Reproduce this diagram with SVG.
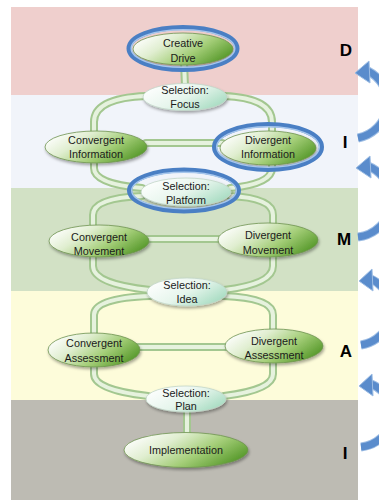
<svg xmlns="http://www.w3.org/2000/svg" width="379" height="500" viewBox="0 0 379 500">
  <defs>
    <linearGradient id="gNode" x1="0" y1="0.25" x2="1" y2="0.75">
      <stop offset="0" stop-color="#ffffff"/>
      <stop offset="0.3" stop-color="#e0eed0"/>
      <stop offset="0.62" stop-color="#a4ce78"/>
      <stop offset="1" stop-color="#4e9322"/>
    </linearGradient>
    <linearGradient id="gSel" x1="0" y1="0.2" x2="1" y2="0.8">
      <stop offset="0" stop-color="#ffffff"/>
      <stop offset="0.5" stop-color="#e6f5ec"/>
      <stop offset="1" stop-color="#a0d9bd"/>
    </linearGradient>
    <filter id="shadow" x="-20%" y="-30%" width="140%" height="170%">
      <feDropShadow dx="1" dy="2" stdDeviation="1.4" flood-color="#000" flood-opacity="0.35"/>
    </filter>
    <style>
      .node { fill: url(#gNode); stroke: #6f9350; stroke-width: 0.8; filter: url(#shadow); }
      .sel { fill: url(#gSel); stroke: #c2d6c8; stroke-width: 0.8; filter: url(#shadow); }
      .ring { fill: none; stroke: #4a7fc4; stroke-width: 5; }
      .ringHi { fill: none; stroke: #a6c6ec; stroke-width: 1.4; }
      .label { font-family: "Liberation Sans", Arial, sans-serif; font-size: 10.8px; fill: #1a1a1a; text-anchor: middle; }
      .phase { font-family: "Liberation Sans", Arial, sans-serif; font-size: 17px; font-weight: bold; fill: #000; text-anchor: middle; }
      .tubeOut { fill: none; stroke: #a3c790; stroke-width: 8; stroke-linecap: round; }
      .tubeIn { fill: none; stroke: #e6f2de; stroke-width: 4; stroke-linecap: round; }
      .arcOut { fill: none; stroke: #9dbde4; stroke-width: 9; }
      .arcIn { fill: none; stroke: #5a8ccc; stroke-width: 7; }
      .headShape { fill: #5a8ccc; stroke: #9dbde4; stroke-width: 1; }
    </style>
  </defs>

  <!-- phase bands -->
  <g id="bands">
    <rect x="11" y="7" width="347" height="88" fill="#efcfcd"/>
    <rect x="11" y="95" width="347" height="93" fill="#f1f4fa"/>
    <rect x="11" y="188" width="347" height="103" fill="#d2e1c5"/>
    <rect x="11" y="291" width="347" height="109" fill="#fdfcda"/>
    <rect x="11" y="400" width="347" height="100" fill="#bdbbb3"/>
  </g>

  <!-- tube connectors -->
  <g id="connectors">
    <g class="tubeOut">
      <path d="M184 62 L185 86"/>
      <path d="M146 96 Q94 98 94 122 L94 136"/>
      <path d="M224 96 Q272 98 272 122 L272 134"/>
      <path d="M146 143 L222 143"/>
      <path d="M94 160 L94 168 Q94 184 142 188"/>
      <path d="M272 162 L272 168 Q272 184 230 188"/>
      <path d="M142 196 Q93 198 93 215 L93 228"/>
      <path d="M230 196 Q273 198 273 215 L273 226"/>
      <path d="M148 239 L220 239"/>
      <path d="M93 255 L93 266 Q93 284 150 290"/>
      <path d="M273 254 L273 266 Q273 284 224 290"/>
      <path d="M150 296 Q94 298 94 315 L94 336"/>
      <path d="M224 296 Q273 298 273 315 L273 332"/>
      <path d="M138 347 L226 347"/>
      <path d="M94 364 L94 374 Q94 390 148 396"/>
      <path d="M273 360 L273 374 Q273 390 224 396"/>
      <path d="M187 410 L187 434"/>
    </g>
    <g class="tubeIn">
      <path d="M184 62 L185 86"/>
      <path d="M146 96 Q94 98 94 122 L94 136"/>
      <path d="M224 96 Q272 98 272 122 L272 134"/>
      <path d="M146 143 L222 143"/>
      <path d="M94 160 L94 168 Q94 184 142 188"/>
      <path d="M272 162 L272 168 Q272 184 230 188"/>
      <path d="M142 196 Q93 198 93 215 L93 228"/>
      <path d="M230 196 Q273 198 273 215 L273 226"/>
      <path d="M148 239 L220 239"/>
      <path d="M93 255 L93 266 Q93 284 150 290"/>
      <path d="M273 254 L273 266 Q273 284 224 290"/>
      <path d="M150 296 Q94 298 94 315 L94 336"/>
      <path d="M224 296 Q273 298 273 315 L273 332"/>
      <path d="M138 347 L226 347"/>
      <path d="M94 364 L94 374 Q94 390 148 396"/>
      <path d="M273 360 L273 374 Q273 390 224 396"/>
      <path d="M187 410 L187 434"/>
    </g>
  </g>

  <!-- nodes -->
  <g id="creative-drive">
    <ellipse class="node" cx="183" cy="49" rx="50" ry="16"/>
    <ellipse class="ring" cx="183" cy="48.5" rx="54" ry="21"/>
    <ellipse class="ringHi" cx="183" cy="48.5" rx="51.8" ry="18.8"/>
    <text class="label" x="183" y="47">Creative</text>
    <text class="label" x="183" y="62">Drive</text>
  </g>

  <g id="selection-focus">
    <ellipse class="sel" cx="185" cy="97" rx="42" ry="13.5"/>
    <text class="label" x="185" y="94">Selection:</text>
    <text class="label" x="185" y="108">Focus</text>
  </g>

  <g id="convergent-information">
    <ellipse class="node" cx="96" cy="147" rx="51" ry="16"/>
    <text class="label" x="96" y="144">Convergent</text>
    <text class="label" x="96" y="158">Information</text>
  </g>

  <g id="divergent-information">
    <ellipse class="node" cx="268" cy="148" rx="48" ry="17"/>
    <ellipse class="ring" cx="268" cy="147" rx="53.5" ry="22.5"/>
    <ellipse class="ringHi" cx="268" cy="147" rx="51.3" ry="20.3"/>
    <text class="label" x="268" y="144">Divergent</text>
    <text class="label" x="268" y="158">Information</text>
  </g>

  <g id="selection-platform">
    <ellipse class="sel" cx="186" cy="192" rx="45" ry="14"/>
    <ellipse class="ring" cx="184" cy="190.5" rx="54.5" ry="20.5"/>
    <ellipse class="ringHi" cx="184" cy="190.5" rx="52.3" ry="18.3"/>
    <text class="label" x="186" y="190">Selection:</text>
    <text class="label" x="186" y="204">Platform</text>
  </g>

  <g id="convergent-movement">
    <ellipse class="node" cx="99" cy="241" rx="50" ry="16"/>
    <text class="label" x="99" y="241">Convergent</text>
    <text class="label" x="99" y="255">Movement</text>
  </g>

  <g id="divergent-movement">
    <ellipse class="node" cx="268" cy="240" rx="50" ry="17"/>
    <text class="label" x="268" y="239">Divergent</text>
    <text class="label" x="268" y="254">Movement</text>
  </g>

  <g id="selection-idea">
    <ellipse class="sel" cx="187" cy="292" rx="40" ry="14"/>
    <text class="label" x="187" y="289">Selection:</text>
    <text class="label" x="187" y="303">Idea</text>
  </g>

  <g id="convergent-assessment">
    <ellipse class="node" cx="94" cy="350" rx="46" ry="17"/>
    <text class="label" x="94" y="347">Convergent</text>
    <text class="label" x="94" y="362">Assessment</text>
  </g>

  <g id="divergent-assessment">
    <ellipse class="node" cx="274" cy="346" rx="49" ry="17"/>
    <text class="label" x="274" y="345">Divergent</text>
    <text class="label" x="274" y="359">Assessment</text>
  </g>

  <g id="selection-plan">
    <ellipse class="sel" cx="186" cy="399" rx="40" ry="13"/>
    <text class="label" x="186" y="397">Selection:</text>
    <text class="label" x="186" y="410">Plan</text>
  </g>

  <g id="implementation">
    <ellipse class="node" cx="186" cy="450" rx="62" ry="17.5"/>
    <text class="label" x="186" y="454">Implementation</text>
  </g>

  <!-- phase letters -->
  <g id="phase-letters">
    <text class="phase" x="346" y="56">D</text>
    <text class="phase" x="345" y="148">I</text>
    <text class="phase" x="344" y="245">M</text>
    <text class="phase" x="346" y="357">A</text>
    <text class="phase" x="345" y="459">I</text>
  </g>

  <!-- curved return arrows on the right edge -->
  <g id="return-arrows">
    <g>
      <path class="arcOut" d="M358 138 A37 36 0 0 0 368 71"/>
      <path class="arcIn" d="M358 138 A37 36 0 0 0 368 71"/>
      <polygon class="headShape" points="355,73 369,61 370,83"/>
    </g>
    <g>
      <path class="arcOut" d="M358 237 A37 37 0 0 0 368 166"/>
      <path class="arcIn" d="M358 237 A37 37 0 0 0 368 166"/>
      <polygon class="headShape" points="356,168 370,156 371,178"/>
    </g>
    <g>
      <path class="arcOut" d="M361 345 A36 35 0 0 0 371 279"/>
      <path class="arcIn" d="M361 345 A36 35 0 0 0 371 279"/>
      <polygon class="headShape" points="359,281 372,269 373,291"/>
    </g>
    <g>
      <path class="arcOut" d="M361 447 A35 33 0 0 0 371 384"/>
      <path class="arcIn" d="M361 447 A35 33 0 0 0 371 384"/>
      <polygon class="headShape" points="359,386 372,374 373,396"/>
    </g>
  </g>
</svg>
